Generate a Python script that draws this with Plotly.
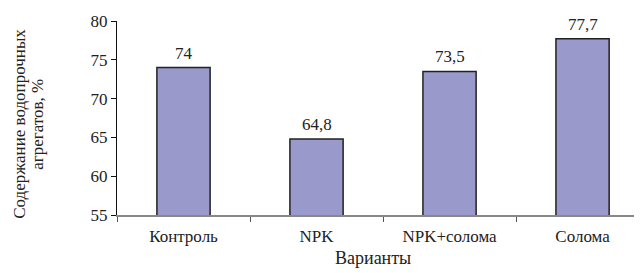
import plotly.graph_objects as go

categories = ["Контроль", "NPK", "NPK+солома", "Солома"]
values = [74, 64.8, 73.5, 77.7]
y_ticks = [55, 60, 65, 70, 75, 80]
y_title_lines = ["Содержание водопрочных", "агрегатов, %"]
x_title = "Варианты"

FONT = "Liberation Serif"
FS = 17
labels = [f"{v:g}".replace(".", ",") for v in values]

fig = go.Figure()
fig.add_trace(go.Bar(
    x=categories, y=values,
    marker=dict(color="#9999CC", line=dict(color="#222222", width=1.5)),
    width=0.4,
    hoverinfo="skip",
))

for c, v, t in zip(categories, values, labels):
    fig.add_annotation(x=c, y=v, text=t, showarrow=False, yanchor="bottom",
                       yshift=3, font=dict(family=FONT, size=FS, color="#222"))

for line, xc in zip(y_title_lines, [-0.1848, -0.1505]):
    fig.add_annotation(xref="paper", yref="paper", x=xc, y=0.47,
                       text=line, textangle=-90,
                       showarrow=False, xanchor="center", yanchor="middle",
                       font=dict(family=FONT, size=FS, color="#222"))
fig.add_annotation(xref="paper", yref="paper", x=0.4876, y=-0.2216,
                   text=x_title, showarrow=False, xanchor="center", yanchor="middle",
                   font=dict(family=FONT, size=FS + 1, color="#222"))

fig.update_layout(
    width=634, height=265,
    margin=dict(l=109, r=0, t=13, b=58, pad=0),
    paper_bgcolor="white", plot_bgcolor="white",
    showlegend=False,
    font=dict(family=FONT, size=FS, color="#222"),
)
fig.update_xaxes(
    type="category", range=[-0.5, 3.447],
    showline=True, linecolor="#888888", linewidth=1.5,
    ticks="outside", tickson="boundaries", ticklen=5, tickcolor="#555555",
    showgrid=False, zeroline=False, ticklabelstandoff=5,
    tickfont=dict(family=FONT, size=FS, color="#222"),
)
fig.update_yaxes(
    range=[55, 80], tickvals=y_ticks,
    showline=True, linecolor="#111111", linewidth=1,
    ticks="outside", ticklen=5, tickcolor="#111111",
    showgrid=False, zeroline=False,
    tickfont=dict(family=FONT, size=FS, color="#222"),
)

fig.write_html("out.html")
